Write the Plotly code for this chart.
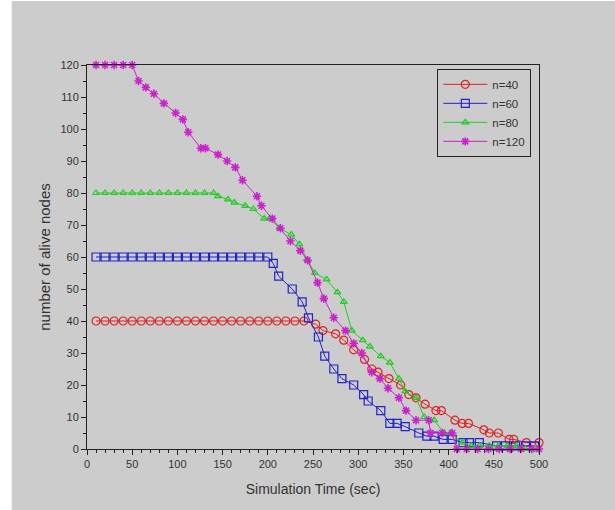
import plotly.graph_objects as go

# ---- data ----
x_n40 = [10, 20, 30, 40, 50, 60, 70, 80, 90, 100, 110, 120, 130, 140, 150, 160, 170, 180, 190, 200,
         210, 220, 230, 240, 253, 261, 275, 284, 295, 307, 315, 322, 334, 347, 356, 364, 374, 386, 392,
         407, 415, 422, 439, 445, 455, 467, 472, 486, 500]
y_n40 = [40, 40, 40, 40, 40, 40, 40, 40, 40, 40, 40, 40, 40, 40, 40, 40, 40, 40, 40, 40,
         40, 40, 40, 40, 39, 37, 36, 34, 31, 28, 25, 24, 22, 20, 17, 16, 14, 12, 12,
         9, 8, 8, 6, 5, 5, 3, 3, 2, 2]

x_n60 = [10, 20, 30, 40, 50, 60, 70, 80, 90, 100, 110, 120, 130, 140, 150, 160, 170, 180, 190, 200,
         206, 212, 227, 238, 245, 256, 263, 273, 282, 295, 306, 311, 325, 335, 343, 352, 367, 376, 384,
         394, 404, 416, 423, 434, 453, 463, 474, 485, 495]
y_n60 = [60, 60, 60, 60, 60, 60, 60, 60, 60, 60, 60, 60, 60, 60, 60, 60, 60, 60, 60, 60,
         58, 54, 50, 46, 41, 35, 29, 25, 22, 20, 17, 15, 12, 8, 8, 7, 5, 4, 4,
         3, 3, 2, 2, 2, 1, 1, 1, 1, 1]

x_n80 = [10, 20, 30, 40, 50, 60, 70, 80, 90, 100, 110, 120, 130, 140,
         145, 156, 163, 175, 184, 196, 202, 213, 226, 235, 244, 252, 265, 277, 284, 293, 305, 313,
         325, 335, 345, 352, 364, 373, 384, 395, 402, 415, 425, 434, 445, 455, 465, 475, 485, 495]
y_n80 = [80, 80, 80, 80, 80, 80, 80, 80, 80, 80, 80, 80, 80, 80,
         79, 78, 77, 76, 75, 72, 72, 69, 67, 64, 59, 55, 53, 49, 46, 37, 34, 32,
         29, 27, 22, 18, 16, 10, 9, 5, 5, 2, 1, 1, 1, 1, 1, 1, 0, 0]

x_n120 = [10, 20, 30, 40, 50, 57, 65, 74, 85, 98, 106, 112, 126, 131, 145, 155, 164, 172, 188, 193,
          205, 214, 225, 236, 244, 255, 262, 273, 286, 295, 304, 315, 324, 333, 345, 353, 364, 378,
          380, 393, 404, 409, 420, 432, 444, 456, 468, 480, 492, 500]
y_n120 = [120, 120, 120, 120, 120, 115, 113, 111, 108, 105, 103, 99, 94, 94, 92, 90, 88, 84, 79, 76,
          72, 69, 65, 62, 59, 52, 47, 41, 37, 33, 30, 24, 22, 19, 16, 12, 9, 9,
          5, 5, 5, 0, 0, 0, 0, 0, 0, 0, 0, 0]

x_ticks = [0, 50, 100, 150, 200, 250, 300, 350, 400, 450, 500]
y_ticks = [0, 10, 20, 30, 40, 50, 60, 70, 80, 90, 100, 110, 120]

series = [
    ("n=40", x_n40, y_n40, "#dd2222", "circle-open", 8, 1.2),
    ("n=60", x_n60, y_n60, "#2222cc", "square-open", 8, 1.2),
    ("n=80", x_n80, y_n80, "#22cc22", "triangle-up-open", 6, 1.2),
    ("n=120", x_n120, y_n120, "#cc22cc", "asterisk-open", 7, 1.6),
]

fig = go.Figure()
for name, xs, ys, col, sym, sz, lw in series:
    fig.add_trace(go.Scatter(
        x=xs, y=ys, name=name, mode="lines+markers",
        line=dict(color=col, width=1),
        marker=dict(symbol=sym, size=sz, color=col, line=dict(color=col, width=lw)),
        cliponaxis=False,
    ))

font_col = "#333333"
fig.update_layout(
    width=615, height=510,
    margin=dict(l=87, r=76, t=65, b=61),
    paper_bgcolor="#cccccc", plot_bgcolor="#cccccc",
    font=dict(family="Liberation Sans, Arial, sans-serif", size=11, color=font_col),
    showlegend=True,
    legend=dict(x=0.775, y=0.99, xanchor="left", yanchor="top",
                bgcolor="rgba(0,0,0,0)", bordercolor="#222222", borderwidth=1,
                font=dict(size=11.5, color=font_col), itemwidth=44, tracegroupgap=0),
    shapes=[dict(type="rect", xref="paper", yref="paper", x0=-0.2, x1=-0.1665, y0=-0.2, y1=1.2,
                 fillcolor="white", line=dict(width=0), layer="below"),
            dict(type="rect", xref="paper", yref="paper", x0=-0.2, x1=1.2, y0=1.1666, y1=1.3,
                 fillcolor="white", line=dict(width=0), layer="below")],
)
fig.update_xaxes(
    range=[0, 500], tickvals=x_ticks, ticks="outside", ticklen=5, tickwidth=1, tickcolor="#222",
    showline=True, linecolor="#222", linewidth=1, mirror=True, showgrid=False, zeroline=False,
    minor=dict(dtick=10, ticks="outside", ticklen=3, tickcolor="#222", showgrid=False),
    title=dict(text="Simulation Time (sec)", font=dict(size=14, color=font_col), standoff=14),
)
fig.update_yaxes(
    range=[0, 120], tickvals=y_ticks, ticks="outside", ticklen=5, tickwidth=1, tickcolor="#222",
    showline=True, linecolor="#222", linewidth=1, mirror=True, showgrid=False, zeroline=False,
    minor=dict(dtick=5, ticks="outside", ticklen=3, tickcolor="#222", showgrid=False),
    title=dict(text="number of alive nodes", font=dict(size=15, color=font_col), standoff=6),
)

fig.write_html("out.html")
